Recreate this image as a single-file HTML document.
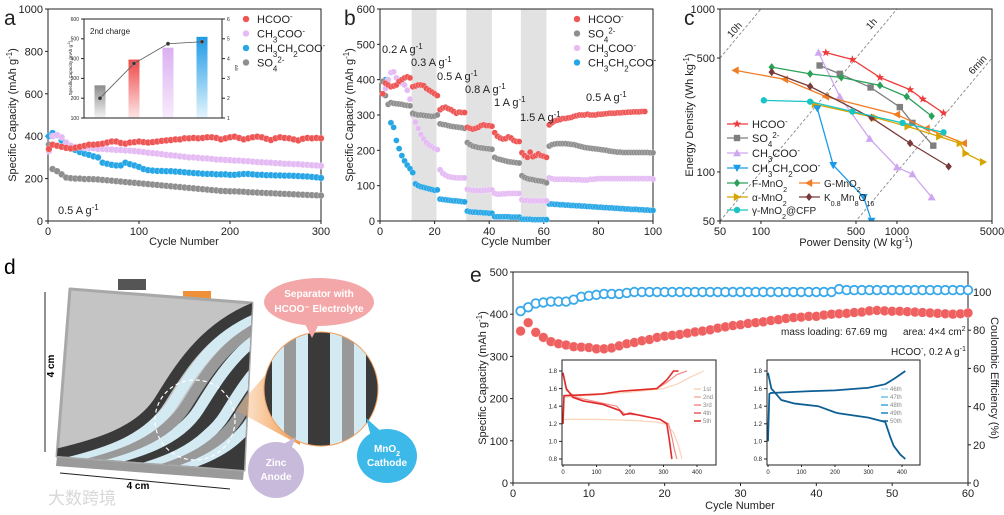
<!DOCTYPE html>
<html><head><meta charset="utf-8"><style>
html,body{margin:0;padding:0;background:#fff;overflow:hidden;width:1004px;height:515px;}
svg{display:block;font-family:"Liberation Sans","Noto Sans CJK SC",sans-serif;}
</style></head><body>
<svg id="fig" width="1004" height="515" viewBox="0 0 1004 515" xmlns="http://www.w3.org/2000/svg">
<defs>
<clipPath id="clipC"><rect x="720" y="9" width="272" height="212"/></clipPath>
<clipPath id="devClip"><polygon points="70,289 252,303 244,470 57,456"/></clipPath>
<clipPath id="zoomClip"><circle cx="321" cy="389" r="57"/></clipPath>
<linearGradient id="gGray" x1="0" y1="0" x2="0" y2="1"><stop offset="0" stop-color="#8c8c8c"/><stop offset="1" stop-color="#f4f4f4"/></linearGradient>
<linearGradient id="gRed" x1="0" y1="0" x2="0" y2="1"><stop offset="0" stop-color="#ee4a4a"/><stop offset="1" stop-color="#fde6e6"/></linearGradient>
<linearGradient id="gPur" x1="0" y1="0" x2="0" y2="1"><stop offset="0" stop-color="#dcb0f2"/><stop offset="1" stop-color="#f7ecfc"/></linearGradient>
<linearGradient id="gBlue" x1="0" y1="0" x2="0" y2="1"><stop offset="0" stop-color="#1e9ae6"/><stop offset="1" stop-color="#e4f5fd"/></linearGradient>
<linearGradient id="cone" x1="0" y1="0" x2="1" y2="0"><stop offset="0" stop-color="#f5a25a" stop-opacity="0.2"/><stop offset="1" stop-color="#f08a2c" stop-opacity="0.9"/></linearGradient>
</defs>

<g>
<text x="4" y="274" font-size="21">d</text>
<rect x="118" y="279" width="28" height="11" fill="#555"/>
<rect x="183" y="291" width="28" height="8" fill="#f0913a"/>
<polygon points="57,456 244,470 243,480 56,466" fill="#9a9a9a"/>
<polygon points="70,289 252,303 244,470 57,456" fill="#c4c4c4" stroke="#a8a8a8" stroke-width="3" stroke-linejoin="round"/>
<g clip-path="url(#devClip)" id="stripes">
<polygon points="150,470 255,300 255,475" fill="#3a3a3a"/>
</g>
<circle cx="195" cy="420" r="40" fill="none" stroke="#fff" stroke-width="1.2" stroke-dasharray="4,3"/>
<polygon points="235,410 300,335 300,445" fill="url(#cone)"/>
<g clip-path="url(#zoomClip)" id="zoomStripes"></g>
<circle cx="321" cy="389" r="57" fill="none" stroke="#f0a060" stroke-width="1"/>
<line x1="45" y1="292" x2="45" y2="452" stroke="#222" stroke-width="1"/>
<text x="0" y="0" font-size="10" font-weight="bold" transform="translate(54,366) rotate(-90)" text-anchor="middle">4 cm</text>
<line x1="60" y1="473" x2="230" y2="489" stroke="#222" stroke-width="1"/>
<text x="138" y="489" font-size="10" font-weight="bold" text-anchor="middle">4 cm</text>
<polygon points="302,318 312,338 322,318" fill="#f4a7a8"/>
<ellipse cx="319" cy="302" rx="55" ry="24" fill="#f4a7a8"/>
<text x="319" y="297" font-size="10" font-weight="bold" fill="#fff" text-anchor="middle">Separator with</text>
<text x="319" y="312" font-size="10" font-weight="bold" fill="#fff" text-anchor="middle">HCOO⁻ Electrolyte</text>
<polygon points="280,446 296,437 290,452" fill="#c8bada"/>
<circle cx="276" cy="470" r="28" fill="#c8bada"/>
<text x="276" y="466" font-size="10" font-weight="bold" fill="#fff" text-anchor="middle">Zinc</text>
<text x="276" y="480" font-size="10" font-weight="bold" fill="#fff" text-anchor="middle">Anode</text>
<polygon points="366,418 372,440 384,434" fill="#3cb9e8"/>
<ellipse cx="387" cy="456" rx="30" ry="27" fill="#3cb9e8"/>
<text x="387" y="452" font-size="10" font-weight="bold" fill="#fff" text-anchor="middle">MnO<tspan font-size="7" baseline-shift="sub">2</tspan></text>
<text x="387" y="466" font-size="10" font-weight="bold" fill="#fff" text-anchor="middle">Cathode</text>
<text x="48" y="504" font-size="17" fill="#d8d8d8">大数跨境</text>
</g>
</svg>
<script>
const NS='http://www.w3.org/2000/svg';
const svg=document.getElementById('fig');
function el(tag,attrs,parent){const e=document.createElementNS(NS,tag);for(const k in attrs)e.setAttribute(k,attrs[k]);(parent||svg).appendChild(e);return e;}
function T(x,y,s,size,anchor,name,extra){const e=el('text',Object.assign({x:x,y:y,'font-size':size,'text-anchor':anchor||'start',fill:'#222'},extra||{}));e.innerHTML=s;


return e;}
function lin(d0,d1,p0,p1){return v=>p0+(v-d0)/(d1-d0)*(p1-p0);}
function lg(d0,d1,p0,p1){return v=>p0+(Math.log10(v)-Math.log10(d0))/(Math.log10(d1)-Math.log10(d0))*(p1-p0);}
const SUB=s=>'<tspan font-size="0.72em" baseline-shift="sub">'+s+'</tspan>';
const SUP=s=>'<tspan font-size="0.72em" baseline-shift="super">'+s+'</tspan>';

const aHCOO=[340,360,355,350,345,342,345,350,355,360,360,362,365,370,375,375,368,365,370,372,375,372,370,372,375,378,380,382,385,385,390,390,392,390,392,395,395,392,385,390,395,398,392,385,390,395,398,395,388,382,390,395,392,390,385,380,388,392,390,392,390];
const aCH3COO=[330,400,405,395,370,355,350,348,345,345,343,340,340,338,337,335,335,333,332,330,328,325,322,320,318,315,312,310,308,305,303,300,300,298,296,295,293,290,290,288,287,285,285,283,282,280,278,277,276,275,273,272,270,270,268,268,266,265,263,262,260];
const aCH3CH2COO=[400,415,405,380,360,345,335,325,318,312,305,300,275,270,265,262,262,275,268,262,255,245,240,238,236,236,235,235,233,232,230,228,226,225,223,222,222,220,220,220,218,218,220,222,222,220,218,218,216,216,215,215,214,214,213,212,211,210,208,206,203];
const aSO4=[360,245,235,220,205,202,200,200,198,198,197,196,194,192,190,188,186,184,182,180,178,176,174,172,170,168,166,164,162,160,158,156,154,152,150,148,146,144,142,141,140,140,139,138,136,135,134,133,132,131,130,129,128,127,126,125,124,123,122,121,120];
const aXTicks=[0,100,200,300];
const aYTicks=[0,200,400,600,800,1000];
const insetCats=['SO4','HCOO','CH3COO','CH3CH2COO'];
const insetCap=[265,395,455,510];
const insetRatio=[2.0,3.75,4.75,4.85];

const bHCOO=[360,390,385,380,382,385,395,400,405,408,405,380,382,385,385,383,375,370,365,360,355,315,320,322,318,315,310,305,308,307,307,265,262,260,262,265,270,272,270,270,268,250,240,235,232,233,238,235,228,225,225,193,185,180,195,182,185,190,185,183,180,272,278,283,285,287,290,290,292,293,296,298,300,300,300,302,300,300,300,302,302,303,304,305,305,305,306,306,307,307,308,308,309,309,309,310,310];
const bSO4=[395,355,330,335,333,332,331,330,328,327,326,305,302,300,300,299,298,297,296,297,300,275,273,272,270,268,267,266,265,264,262,222,216,212,210,208,207,206,205,204,203,180,176,174,172,170,168,167,166,165,164,128,123,120,118,117,115,114,113,111,108,212,216,218,219,219,219,219,218,217,216,214,212,210,208,207,206,205,204,203,202,201,200,198,197,196,195,195,194,194,194,194,194,194,194,194,194,194,193,193];
const bCH3COO=[395,375,400,420,422,405,395,390,385,370,345,300,280,262,245,232,222,215,210,205,202,145,135,130,126,124,123,122,122,122,122,90,88,87,86,86,86,87,87,88,88,78,76,76,77,77,78,78,78,78,78,60,58,58,57,57,57,57,57,57,57,122,120,118,118,118,118,118,118,117,117,117,117,116,116,116,118,118,119,120,120,120,120,120,120,120,120,120,120,120,120,120,120,120,120,120,120,120,120,118];
const bCH3CH2COO=[395,400,400,278,265,228,205,185,170,158,148,137,105,100,97,95,93,91,89,87,88,62,61,60,59,58,57,57,56,55,54,28,26,25,25,24,24,23,23,22,22,12,12,12,12,12,12,11,11,11,11,5,5,5,5,4,4,4,4,4,4,48,48,47,47,46,46,45,45,44,44,43,43,42,42,41,41,40,40,39,39,38,38,37,37,36,36,35,35,34,34,33,33,33,32,32,31,31,30,30];
const bBands=[[11.6,20.7],[31.6,41.0],[51.6,61.0]];
const bXTicks=[0,20,40,60,80,100];
const bYTicks=[0,100,200,300,400,500,600];

const cHCOO_P=[300,470,750,1250,1550,2200], cHCOO_E=[540,490,380,320,280,230];
const cSO4_P=[270,380,640,1050,1300,1850], cSO4_E=[450,400,330,250,200,145];
const cCH3COO_P=[265,380,630,1000,1300,1800], cCH3COO_E=[540,290,160,107,97,70];
const cCH3CH2COO_P=[260,340,570,650], cCH3CH2COO_E=[245,110,70,50];
const cF_P=[120,230,390,750,1180,1800], cF_E=[440,400,380,340,290,220];
const cG_P=[65,150,300,1000,1650,3100], cG_E=[420,370,290,225,185,150];
const cA_P=[250,700,1200,2050,2900,3200,4300], cA_E=[260,215,190,165,150,130,115];
const cK_P=[120,230,650,1250,2400], cK_E=[410,335,215,150,108];
const cY_P=[105,230,470,1100,2200], cY_E=[275,270,235,200,175];
const cTimeH=[10,1,0.1];
const cTimeLabels=['10h','1h','6min'];
const cXTicks=[50,100,500,1000,5000];
const cYTicks=[50,100,500,1000];

const eCap=[360,380,357,345,335,330,327,323,322,321,318,318,320,325,330,333,337,340,345,348,350,352,355,358,360,363,367,370,373,375,378,380,382,385,387,390,392,393,395,395,398,400,401,402,404,405,408,409,408,407,407,406,405,404,403,402,401,400,401,403];
const eCE=[90,92,94,94.5,95,95,95,96,97.5,98,98.5,99,99,99,99.5,100,100,100,100,100,100,100,100,100,100,100,100,100,100,100,100,100,100,100,100,100,100,100,100,100,100,100,101.5,101,101,101,101,101,101,101,101,101,101,101,101,101,101,101,101,101];
const eXTicks=[0,10,20,30,40,50,60];
const eYTicks=[0,100,200,300,400,500];
const eY2Ticks=[0,20,40,60,80,100];
const c1dQ=[0,5,100,200,280,310,330,345,355], c1dV=[1.25,1.25,1.25,1.24,1.22,1.19,1.1,0.95,0.8];
const c1cQ=[0,3,100,200,300,340,380,420], c1cV=[1.2,1.5,1.53,1.56,1.6,1.65,1.73,1.8];
const c3dQ=[0,10,40,100,160,175,185,230,290,315,325,333,340], c3dV=[1.76,1.58,1.5,1.45,1.4,1.34,1.31,1.3,1.25,1.2,1.05,0.9,0.8];
const c3cQ=[0,3,100,170,280,310,340,370], c3cV=[1.2,1.52,1.53,1.57,1.6,1.67,1.76,1.8];
const c5dQ=[0,10,30,60,120,170,180,200,250,290,310,318,325], c5dV=[1.78,1.6,1.5,1.46,1.42,1.35,1.3,1.32,1.28,1.25,1.2,1.0,0.8];
const c5cQ=[0,3,120,170,280,310,330,345], c5cV=[1.2,1.52,1.54,1.57,1.6,1.7,1.8,1.8];
const c50dQ=[0,10,40,80,150,200,210,300,350,365,375,395,410], c50dV=[1.78,1.6,1.47,1.43,1.4,1.33,1.32,1.27,1.22,1.05,0.95,0.85,0.8];
const c50cQ=[0,4,8,120,200,300,350,380,410], c50cV=[1.0,1.54,1.55,1.57,1.58,1.61,1.65,1.72,1.8];
const iXTicks=[0,100,200,300,400];
const iYTicks=[0.8,1.0,1.2,1.4,1.6,1.8];

function frame(x0,y0,x1,y1,name){const r=el('rect',{x:x0,y:y0,width:x1-x0,height:y1-y0,fill:'none',stroke:'#222','stroke-width':1});

}
function xticks(ticks,sx,y,fs,name,fmt,len){ticks.forEach(t=>{el('line',{x1:sx(t),x2:sx(t),y1:y,y2:y+(len||3),stroke:'#222'});T(sx(t),y+fs+3,fmt?fmt(t):t,fs,'middle',name);});}
function yticks(ticks,sy,x,fs,name,fmt,side){ticks.forEach(t=>{const d=side==='r'?1:-1;el('line',{x1:x,x2:x+3*d,y1:sy(t),y2:sy(t),stroke:'#222'});T(x+5*d,sy(t)+fs*0.36,fmt?fmt(t):t,fs,side==='r'?'start':'end',name);});}
function dot(x,y,r,fill,name,g){const c=el('circle',{cx:x,cy:y,r:r,fill:fill,stroke:'#fff','stroke-width':0.4,'stroke-opacity':0.6},g);


return c;}

(function(){
const sx=lin(0,300,48,321), sy=lin(0,1000,221,9);
T(4,25,'a',21,'start','panel-a-label');
frame(48,9,321,221,'panel-a-plot-area');
xticks(aXTicks,sx,221,11,'panel-a-x-tick');
yticks(aYTicks,sy,48,11,'panel-a-y-tick');
T(184,245,'Cycle Number',11,'middle','panel-a-x-axis-title');
T(0,0,'Specific Capacity (mAh g'+SUP('-1')+')',11,'middle','panel-a-y-axis-title',{transform:'translate(16,115) rotate(-90)'});
const series=[[aSO4,'#8e8e8e','so4'],[aCH3CH2COO,'#27a6e6','ch3ch2coo'],[aCH3COO,'#e5bbf4','ch3coo'],[aHCOO,'#ee5555','hcoo']];
series.forEach(s=>s[0].forEach((v,i)=>{const cyc=i===0?1:i*5;dot(sx(cyc),sy(v),3.3,s[1],'panel-a-point-'+s[2]);}));
T(58,214,'0.5 A g'+SUP('-1'),11,'start','panel-a-rate-label');
const leg=[['HCOO'+SUP('-'),'#ee5555'],['CH'+SUB('3')+'COO'+SUP('-'),'#e5bbf4'],['CH'+SUB('3')+'CH'+SUB('2')+'COO'+SUP('-'),'#27a6e6'],['SO'+SUB('4')+SUP('2-'),'#8e8e8e']];
leg.forEach((l,i)=>{dot(246,19+i*14.5,3.3,l[1],'panel-a-legend-marker');T(257,23+i*14.5,l[0],11,'start','panel-a-legend-entry');});
const ix0=84,ix1=222,iy0=19,iy1=118;
const isy=lin(100,600,iy1,iy0), isy2=lin(1,6,iy1,iy0);
const bx=[100,134,168,202], fills=['url(#gGray)','url(#gRed)','url(#gPur)','url(#gBlue)'];
insetCap.forEach((v,i)=>{const r=el('rect',{x:bx[i]-5.5,y:isy(v),width:11,height:iy1-isy(v),fill:fills[i]});

});
el('polyline',{points:insetRatio.map((v,i)=>bx[i]+','+isy2(v)).join(' '),fill:'none',stroke:'#555','stroke-width':0.8});
insetRatio.forEach((v,i)=>dot(bx[i],isy2(v),2,'#333','inset-ratio-point'));
frame(ix0,iy0,ix1,iy1,'panel-a-inset-frame');
yticks([100,200,300,400,500,600],isy,ix0,5,'inset-y-tick');
yticks([1,2,3,4,5,6],isy2,ix1,5,'inset-y2-tick',null,'r');
T(0,0,'Specific Capacity (mAh g'+SUP('-1')+')',4.5,'middle','inset-y-axis-title',{transform:'translate(72,68) rotate(-90)'});
T(0,0,'Δ/ε',4.5,'middle','inset-y2-axis-title',{transform:'translate(235,68) rotate(90)'});
T(90,34,'2nd charge',8,'start','inset-title');
})();

(function(){
const sx=lin(0,100,380,653), sy=lin(0,600,221,9);
T(344,25,'b',21,'start','panel-b-label');
bBands.forEach(b=>{const r=el('rect',{x:sx(b[0]),y:9,width:sx(b[1])-sx(b[0]),height:212,fill:'#e2e2e2'});

});
frame(380,9,653,221,'panel-b-plot-area');
xticks(bXTicks,sx,221,11,'panel-b-x-tick');
yticks(bYTicks,sy,380,11,'panel-b-y-tick');
T(516,245,'Cycle Number',11,'middle','panel-b-x-axis-title');
T(0,0,'Specific Capacity (mAh g'+SUP('-1')+')',11,'middle','panel-b-y-axis-title',{transform:'translate(353,115) rotate(-90)'});
const series=[[bCH3CH2COO,'#27a6e6','ch3ch2coo'],[bCH3COO,'#e5bbf4','ch3coo'],[bSO4,'#8e8e8e','so4'],[bHCOO,'#ee5555','hcoo']];
series.forEach(s=>s[0].forEach((v,i)=>dot(sx(i+1),sy(v),3,s[1],'panel-b-point-'+s[2])));
const rl=[['0.2',382,53],['0.3',411,66],['0.5',437,80],['0.8',465,93],['1',494,106],['1.5',520,121],['0.5',586,101]];
rl.forEach(r=>T(r[1],r[2],r[0]+' A g'+SUP('-1'),11,'start','panel-b-rate-label'));
const leg=[['HCOO'+SUP('-'),'#ee5555'],['SO'+SUB('4')+SUP('2-'),'#8e8e8e'],['CH'+SUB('3')+'COO'+SUP('-'),'#e5bbf4'],['CH'+SUB('3')+'CH'+SUB('2')+'COO'+SUP('-'),'#27a6e6']];
leg.forEach((l,i)=>{dot(577,19+i*14.5,3.3,l[1],'panel-b-legend-marker');T(588,23+i*14.5,l[0],11,'start','panel-b-legend-entry');});
})();

function marker(type,x,y,color,s,g){let e;
if(type==='circle')e=el('circle',{cx:x,cy:y,r:s*0.8,fill:color},g);
else if(type==='square')e=el('rect',{x:x-s*0.8,y:y-s*0.8,width:s*1.6,height:s*1.6,fill:color},g);
else if(type==='diamond')e=el('polygon',{points:`${x},${y-s} ${x+s*0.8},${y} ${x},${y+s} ${x-s*0.8},${y}`,fill:color},g);
else if(type==='star'){let p=[];for(let k=0;k<10;k++){const r=k%2?s*0.45:s*1.1,a=-Math.PI/2+k*Math.PI/5;p.push((x+r*Math.cos(a)).toFixed(1)+','+(y+r*Math.sin(a)).toFixed(1));}e=el('polygon',{points:p.join(' '),fill:color},g);}
else{const rot={up:0,down:180,left:-90,right:90}[type];e=el('polygon',{points:`${x},${y-s} ${x+s},${y+s*0.8} ${x-s},${y+s*0.8}`,fill:color,transform:`rotate(${rot} ${x} ${y})`},g);}


return e;}
(function(){
const sx=lg(50,5000,720,992), sy=lg(50,1000,221,9);
T(684,25,'c',21,'start','panel-c-label');
const g=el('g',{'clip-path':'url(#clipC)'});
cTimeH.forEach((h,i)=>{const l=el('line',{x1:sx(50),y1:sy(50*h),x2:sx(5000),y2:sy(5000*h),stroke:'#888','stroke-width':0.9,'stroke-dasharray':'3,2'},g);

});
T(0,0,'10h',10,'middle','time-label-10h',{transform:'translate(737,32) rotate(-48)'});
T(0,0,'1h',10,'middle','time-label-1h',{transform:'translate(874,26) rotate(-48)'});
T(0,0,'6min',10,'middle','time-label-6min',{transform:'translate(980,67) rotate(-48)'});
const S=[[cHCOO_P,cHCOO_E,'#ee3a3a','star','hcoo'],[cSO4_P,cSO4_E,'#7f7f7f','square','so4'],[cCH3COO_P,cCH3COO_E,'#cfa6f0','up','ch3coo'],[cF_P,cF_E,'#2aa05a','diamond','f-mno2'],[cG_P,cG_E,'#f07d24','left','g-mno2'],[cA_P,cA_E,'#d7a400','right','a-mno2'],[cK_P,cK_E,'#7a3a3a','diamond','k-mno2'],[cY_P,cY_E,'#19c4c4','circle','y-mno2'],[cCH3CH2COO_P,cCH3CH2COO_E,'#1a9ae8','down','ch3ch2coo']];
S.forEach(s=>{const pl=el('polyline',{points:s[0].map((p,i)=>sx(p)+','+sy(s[1][i])).join(' '),fill:'none',stroke:s[2],'stroke-width':1.3},g);


s[0].forEach((p,i)=>marker(s[3],sx(p),sy(s[1][i]),s[2],4,g));});
frame(720,9,992,221,'panel-c-plot-area');
xticks(cXTicks,sx,221,11,'panel-c-x-tick');
yticks(cYTicks,sy,720,11,'panel-c-y-tick');
T(856,246,'Power Density (W kg'+SUP('-1')+')',11,'middle','panel-c-x-axis-title');
T(0,0,'Energy Density (Wh kg'+SUP('-1')+')',11,'middle','panel-c-y-axis-title',{transform:'translate(693,115) rotate(-90)'});
const leg=[[727,124,'#ee3a3a','star','HCOO'+SUP('-')],[727,138,'#7f7f7f','square','SO'+SUB('4')+SUP('2-')],[727,153,'#cfa6f0','up','CH'+SUB('3')+'COO'+SUP('-')],[727,168,'#1a9ae8','down','CH'+SUB('3')+'CH'+SUB('2')+'COO'+SUP('-')],[727,183,'#2aa05a','diamond','F-MnO'+SUB('2')],[799,183,'#f07d24','left','G-MnO'+SUB('2')],[727,197,'#d7a400','right','α-MnO'+SUB('2')],[799,197,'#7a3a3a','diamond','K'+SUB('0.8')+'Mn'+SUB('8')+'O'+SUB('16')],[727,210,'#19c4c4','circle','γ-MnO'+SUB('2')+'@CFP']];
leg.forEach(l=>{el('line',{x1:l[0],x2:l[0]+21,y1:l[1],y2:l[1],stroke:l[2],'stroke-width':1.3});marker(l[3],l[0]+10,l[1],l[2],4);T(l[0]+25,l[1]+4,l[4],l[3]==='star'||l[3]==='square'||l[3]==='up'||l[3]==='down'?11:10,'start','panel-c-legend-entry');});
})();

(function(){
const g=document.getElementById('stripes');
const cols=['#3a3a3a','#d4eaf3','#999','#d4eaf3','#3a3a3a','#d4eaf3','#999','#d4eaf3'];
for(let i=cols.length-1;i>=0;i--){const p=el('path',{d:'M40,458 C100,445 140,432 160,400 S205,325 262,305',fill:'none',stroke:cols[i],'stroke-width':11,transform:`translate(${i*13},${i*3})`},g);

}
const z=document.getElementById('zoomStripes');
el('rect',{x:264,y:332,width:114,height:114,fill:'#3a3a3a'},z);
const vs=[[272,12,'#d4eaf3'],[284,12,'#999'],[296,12,'#d4eaf3'],[330,12,'#d4eaf3'],[342,12,'#999'],[354,12,'#d4eaf3']];
vs.forEach(v=>{const r=el('rect',{x:v[0],y:332,width:v[1],height:114,fill:v[2]},z);

});
})();

(function(){
const sx=lin(0,60,513,968), sy=lin(0,500,483,272), sy2=lin(0,100,483,292);
T(470,282,'e',21,'start','panel-e-label');
frame(513,272,968,483,'panel-e-plot-area');
xticks(eXTicks,sx,483,11,'panel-e-x-tick');
yticks(eYTicks,sy,513,11,'panel-e-y-tick');
yticks(eY2Ticks,sy2,968,11,'panel-e-y2-tick',null,'r');
T(740,509,'Cycle Number',11,'middle','panel-e-x-axis-title');
T(0,0,'Specific Capacity (mAh g'+SUP('-1')+')',11,'middle','panel-e-y-axis-title',{transform:'translate(486,378) rotate(-90)'});
T(0,0,'Coulombic Efficiency (%)',11,'middle','panel-e-y2-axis-title',{transform:'translate(991,378) rotate(90)'});
eCE.forEach((v,i)=>{const c=el('circle',{cx:sx(i+1),cy:sy2(v),r:4.3,fill:'#fff',stroke:'#3aa9ea','stroke-width':1.8});

});
eCap.forEach((v,i)=>dot(sx(i+1),sy(v),4.8,'#ef6060','capacity-point'));
T(781,335,'mass loading: 67.69 mg',10,'start','mass-loading-note');
T(903,335,'area: 4×4 cm'+SUP('2'),10,'start','area-note');
T(891,355,'HCOO'+SUP('-')+', 0.2 A g'+SUP('-1'),10,'start','condition-note');
function inset(x0,x1,qx0,qx1,curves,legend,lx,nm){
const ix=lin(0,400,qx0,qx1), iy=lin(0.8,1.8,459,371);
el('rect',{x:x0,y:360,width:x1-x0,height:105,fill:'#fff'});
curves.forEach(c=>{const p=el('polyline',{points:c[0].map((q,i)=>ix(q)+','+iy(c[1][i])).join(' '),fill:'none',stroke:c[2],'stroke-width':c[3]});

});
frame(x0,360,x1,465,nm+'-frame');
xticks(iXTicks,ix,465,6,nm+'-x-tick',null,2);
yticks(iYTicks,iy,x0,6,nm+'-y-tick',v=>v.toFixed(1));
legend.forEach((l,i)=>{el('line',{x1:lx-9,x2:lx-2,y1:389+i*8,y2:389+i*8,stroke:l[1],'stroke-width':1.5});T(lx,391+i*8,l[0],6,'start',nm+'-legend-entry',{fill:'#888'});});}
inset(562,716,563,697,[[c1dQ,c1dV,'#fbd3b8',1.2],[c1cQ,c1cV,'#fbd3b8',1.2],[c3dQ,c3dV,'#f58a8a',1.2],[c3cQ,c3cV,'#f58a8a',1.2],[c5dQ,c5dV,'#e02a2a',1.6],[c5cQ,c5cV,'#e02a2a',1.6]],[['1st','#fbd3b8'],['2nd','#f8b0a8'],['3rd','#f58a8a'],['4th','#ea5a5a'],['5th','#e02a2a']],703,'inset-first-cycles');
inset(767,920,768,902,[[c50dQ,c50dV,'#0d5f95',1.8],[c50cQ,c50cV,'#0d5f95',1.8]],[['46th','#a8d8f0'],['47th','#6cc0ea'],['48th','#3aa6e0'],['49th','#1a86c8'],['50th','#0d5f95']],890,'inset-late-cycles');
})();
</script>
</body></html>
